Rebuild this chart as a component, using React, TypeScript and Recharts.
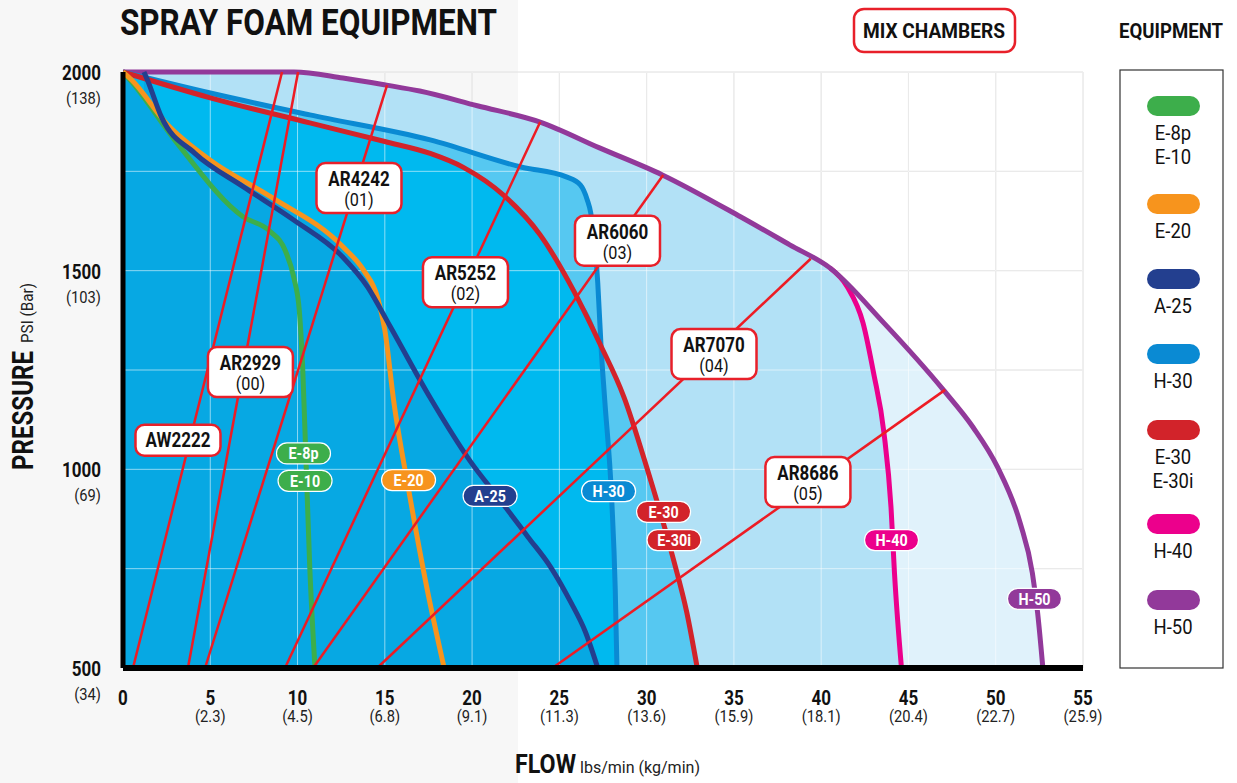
import React from "react";
import {
  ComposedChart,
  Area,
  Line,
  XAxis,
  YAxis,
  CartesianGrid,
  ReferenceLine,
  ReferenceDot,
} from "recharts";

// axis ticks
const FLOW_TICKS = [0, 5, 10, 15, 20, 25, 30, 35, 40, 45, 50, 55];
const FLOW_KG = ["", "(2.3)", "(4.5)", "(6.8)", "(9.1)", "(11.3)", "(13.6)", "(15.9)", "(18.1)", "(20.4)", "(22.7)", "(25.9)"];
const PSI_TICKS = [500, 1000, 1500, 2000];
const PSI_BAR = ["(34)", "(69)", "(103)", "(138)"];
const GRID_X = [5, 10, 15, 20, 25, 30, 35, 40, 45, 50, 55];
const GRID_Y = [750, 1000, 1250, 1500, 1750, 2000];

// equipment curves: flow (lbs/min) vs pressure (psi)
const E10 = [
  { x: 0, y: 2000 }, { x: 0.5, y: 1975 }, { x: 3.1, y: 1821 }, { x: 6.9, y: 1635 },
  { x: 8.4, y: 1600 }, { x: 9.3, y: 1550 }, { x: 9.8, y: 1480 }, { x: 10.1, y: 1400 },
  { x: 10.3, y: 1250 }, { x: 10.5, y: 1000 }, { x: 10.7, y: 754 }, { x: 11, y: 500 },
];
const E20 = [
  { x: 0, y: 2000 }, { x: 0.5, y: 1980 }, { x: 2.5, y: 1870 }, { x: 5, y: 1778 },
  { x: 8.5, y: 1685 }, { x: 12.6, y: 1560 }, { x: 13.8, y: 1500 }, { x: 14.6, y: 1430 },
  { x: 15, y: 1351 }, { x: 15.5, y: 1175 }, { x: 16.4, y: 940 }, { x: 17.4, y: 704 },
  { x: 18.4, y: 500 },
];
const A25 = [
  { x: 1.2, y: 2000 }, { x: 1.4, y: 1980 }, { x: 2.2, y: 1887 }, { x: 4.1, y: 1796 },
  { x: 6.9, y: 1711 }, { x: 9.8, y: 1627 }, { x: 12.6, y: 1534 }, { x: 14, y: 1460 },
  { x: 15.3, y: 1360 }, { x: 17.6, y: 1180 }, { x: 19.9, y: 1020 }, { x: 21.6, y: 923 },
  { x: 23.2, y: 830 }, { x: 24.5, y: 754 }, { x: 25.6, y: 670 }, { x: 26.5, y: 590 },
  { x: 27.2, y: 500 },
];
const H30 = [
  { x: 0, y: 2000 }, { x: 5, y: 1947 }, { x: 10.7, y: 1892 }, { x: 17.6, y: 1829 },
  { x: 22.8, y: 1761 }, { x: 25.4, y: 1736 }, { x: 26.2, y: 1716 }, { x: 26.6, y: 1678 },
  { x: 26.8, y: 1645 }, { x: 27.2, y: 1469 }, { x: 27.4, y: 1300 }, { x: 27.6, y: 1174 },
  { x: 28, y: 923 }, { x: 28.2, y: 700 }, { x: 28.3, y: 500 },
];
const E30 = [
  { x: 0, y: 2000 }, { x: 5, y: 1935 }, { x: 10.7, y: 1872 }, { x: 15, y: 1825 },
  { x: 17.6, y: 1795 }, { x: 19.5, y: 1760 }, { x: 21.8, y: 1690 }, { x: 23.9, y: 1590 },
  { x: 25.8, y: 1451 }, { x: 27.3, y: 1318 }, { x: 28.7, y: 1182 }, { x: 30, y: 1006 },
  { x: 31.5, y: 779 }, { x: 32.3, y: 640 }, { x: 32.9, y: 500 },
];
const H40 = [
  { x: 40.5, y: 1507 }, { x: 41.5, y: 1459 }, { x: 42.4, y: 1368 }, { x: 43, y: 1243 },
  { x: 43.6, y: 1091 }, { x: 44, y: 905 }, { x: 44.2, y: 739 }, { x: 44.6, y: 500 },
];
const H50 = [
  { x: 0, y: 2000 }, { x: 9.8, y: 2000 }, { x: 12.6, y: 1985 }, { x: 15.1, y: 1967 },
  { x: 17, y: 1952 }, { x: 20.3, y: 1915 }, { x: 23.9, y: 1874 }, { x: 27.3, y: 1809 },
  { x: 30.9, y: 1741 }, { x: 35.4, y: 1635 }, { x: 38.2, y: 1565 }, { x: 40.5, y: 1507 },
  { x: 43.6, y: 1368 }, { x: 47, y: 1200 }, { x: 48.7, y: 1106 }, { x: 50.1, y: 1006 },
  { x: 51.4, y: 865 }, { x: 52.1, y: 739 }, { x: 52.4, y: 639 }, { x: 52.7, y: 500 },
];

// mix chambers: line from the 500 psi floor up to the H-50 envelope
const CHAMBERS = ["AW2222", "AR2929", "AR4242", "AR5252", "AR6060", "AR7070", "AR8686"];
const CHAMBER_CODES = ["", "(00)", "(01)", "(02)", "(03)", "(04)", "(05)"];
const CHAMBER_FROM = [0.57, 3.72, 4.7, 9.28, 10.89, 14.56, 24.6];
const CHAMBER_TO = [
  { x: 9.11, y: 2000 }, { x: 10.03, y: 2000 }, { x: 15.13, y: 1967 }, { x: 23.9, y: 1874 },
  { x: 30.95, y: 1741 }, { x: 39.4, y: 1530 }, { x: 47.1, y: 1200 },
];

// where the tags sit (flow, psi)
const chamberTagAt = [
  { x: 3.15, y: 1073 }, { x: 7.3, y: 1245 }, { x: 13.52, y: 1708 }, { x: 19.62, y: 1471 },
  { x: 28.33, y: 1575 }, { x: 33.86, y: 1290 }, { x: 39.24, y: 968 },
];
const curveTags = [
  { text: "E-8p", color: "#3dae4b", x: 10.34, y: 1040 },
  { text: "E-10", color: "#3dae4b", x: 10.43, y: 971 },
  { text: "E-20", color: "#f7941d", x: 16.36, y: 973 },
  { text: "A-25", color: "#233f8f", x: 21.03, y: 933 },
  { text: "H-30", color: "#0a8ad3", x: 27.82, y: 945 },
  { text: "E-30", color: "#d2232a", x: 30.97, y: 893 },
  { text: "E-30i", color: "#d2232a", x: 31.57, y: 822 },
  { text: "H-40", color: "#ec008c", x: 44.03, y: 822 },
  { text: "H-50", color: "#92399a", x: 52.22, y: 674 },
];

const legendItems = [
  { color: "#3dae4b", lines: ["E-8p", "E-10"] },
  { color: "#f7941d", lines: ["E-20"] },
  { color: "#233f8f", lines: ["A-25"] },
  { color: "#0a8ad3", lines: ["H-30"] },
  { color: "#d2232a", lines: ["E-30", "E-30i"] },
  { color: "#ec008c", lines: ["H-40"] },
  { color: "#92399a", lines: ["H-50"] },
];

// fill regions built from the curves
const h40Fill = [...H50.filter((p) => p.x < 40.5), ...H40];
const coreFill = [...E30.filter((p) => p.x <= 27.3), ...H30.filter((p) => p.y <= 1300)];

const FONT = "Roboto, 'Noto Sans', Arial, sans-serif";

function CText({ x, y, size, weight = 400, sx = 1, anchor = "middle", fill = "#111", rotate = 0, children }: any) {
  return (
    <text
      transform={`translate(${x} ${y}) rotate(${rotate}) scale(${sx} 1)`}
      textAnchor={anchor}
      fontSize={size}
      fontWeight={weight}
      fontFamily={FONT}
      fill={fill}
    >
      {children}
    </text>
  );
}

function FlowTick(props: any) {
  const { x, payload } = props;
  const i = FLOW_TICKS.indexOf(payload.value);
  return (
    <g>
      <CText x={x} y={705} size={20} weight={700} sx={0.85}>{payload.value}</CText>
      <CText x={x} y={722} size={16} sx={0.92} fill="#222">{FLOW_KG[i]}</CText>
    </g>
  );
}

function PsiTick(props: any) {
  const { y, payload } = props;
  const i = PSI_TICKS.indexOf(payload.value);
  return (
    <g>
      <CText x={101} y={y + 8} size={20} weight={700} sx={0.85} anchor="end">{payload.value}</CText>
      <CText x={101} y={y + 32} size={16} sx={0.92} anchor="end" fill="#222">{PSI_BAR[i]}</CText>
    </g>
  );
}

function chamberShape(name: string, code: string) {
  return (p: any) => {
    const { cx, cy } = p;
    const two = code !== "";
    const w = 85;
    const h = two ? 50 : 31;
    return (
      <g>
        <rect x={cx - w / 2} y={cy - h / 2} width={w} height={h} rx={9} fill="#fff" stroke="#e8202a" strokeWidth={2.5} />
        <CText x={cx} y={two ? cy - 2 : cy + 7} size={20} weight={700} sx={0.85}>{name}</CText>
        {two && <CText x={cx} y={cy + 18} size={18} sx={0.9}>{code}</CText>}
      </g>
    );
  };
}

function pillShape(text: string, color: string) {
  return (p: any) => {
    const { cx, cy } = p;
    return (
      <g>
        <rect x={cx - 27} y={cy - 10.5} width={54} height={21} rx={10.5} fill={color} stroke="#fff" strokeWidth={1.2} />
        <CText x={cx} y={cy + 6} size={17} weight={700} sx={0.84} fill="#fff">{text}</CText>
      </g>
    );
  };
}

const fill = (data: any[], color: string, key: string) => (
  <Area
    key={key}
    data={data}
    dataKey="y"
    type="monotone"
    fill={color}
    fillOpacity={1}
    stroke="none"
    baseValue={500}
    isAnimationActive={false}
    activeDot={false}
  />
);

const curve = (data: any[], color: string, key: string) => (
  <Line
    key={key}
    data={data}
    dataKey="y"
    type="monotone"
    stroke={color}
    strokeWidth={5}
    dot={false}
    activeDot={false}
    isAnimationActive={false}
  />
);

export default function App() {
  return (
    <div style={{ position: "absolute", left: 0, top: 0, width: 1237, height: 783, background: "#fff", overflow: "hidden" }}>
      <div style={{ position: "absolute", left: 0, top: 0, width: 518, height: 783, background: "#f7f7f7" }} />
      <div style={{ position: "absolute", left: 0, top: 0 }}>
        <ComposedChart width={1237} height={783} margin={{ top: 72, right: 154, bottom: 55, left: 23 }}>
          <CartesianGrid stroke="#d2d2d2" verticalValues={GRID_X} horizontalValues={GRID_Y} />
          <XAxis
            type="number"
            dataKey="x"
            domain={[0, 55]}
            ticks={FLOW_TICKS}
            interval={0}
            height={60}
            axisLine={{ stroke: "#000", strokeWidth: 6 }}
            tickLine={false}
            tick={<FlowTick />}
          />
          <YAxis
            type="number"
            domain={[500, 2000]}
            ticks={PSI_TICKS}
            interval={0}
            width={100}
            axisLine={{ stroke: "#000", strokeWidth: 5 }}
            tickLine={false}
            tick={<PsiTick />}
          />
          {fill(H50, "#e0f2fb", "f-h50")}
          {fill(h40Fill, "#b2e1f6", "f-h40")}
          {fill(H30, "#56c8f1", "f-h30")}
          {fill(E30, "#56c8f1", "f-e30")}
          {fill(coreFill, "#00b9ef", "f-core")}
          {fill(A25, "#07a8e3", "f-a25")}
          {fill(E20, "#07a8e3", "f-e20")}
          {GRID_X.map((v) => (
            <ReferenceLine key={"gx" + v} x={v} stroke="rgba(255,255,255,0.55)" strokeWidth={1} zIndex={150} />
          ))}
          {GRID_Y.map((v) => (
            <ReferenceLine key={"gy" + v} y={v} stroke="rgba(255,255,255,0.55)" strokeWidth={1} zIndex={150} />
          ))}
          {curve(H40, "#ec008c", "c-h40")}
          {curve(H50, "#92399a", "c-h50")}
          {curve(H30, "#0a8ad3", "c-h30")}
          {curve(E30, "#d2232a", "c-e30")}
          {curve(E10, "#3dae4b", "c-e10")}
          {curve(E20, "#f7941d", "c-e20")}
          {curve(A25, "#233f8f", "c-a25")}
          {CHAMBERS.map((name, i) => (
            <Line
              key={"ch" + name}
              data={[{ x: CHAMBER_FROM[i], y: 500 }, CHAMBER_TO[i]]}
              dataKey="y"
              type="linear"
              stroke="#ed1c24"
              strokeWidth={2.5}
              dot={false}
              activeDot={false}
              isAnimationActive={false}
            />
          ))}
          {curveTags.map((t) => (
            <ReferenceDot key={"t" + t.text} x={t.x} y={t.y} r={0} zIndex={2500} shape={pillShape(t.text, t.color)} />
          ))}
          {CHAMBERS.map((name, i) => (
            <ReferenceDot
              key={"tag" + name}
              x={chamberTagAt[i].x}
              y={chamberTagAt[i].y}
              r={0}
              zIndex={2500}
              shape={chamberShape(name, CHAMBER_CODES[i])}
            />
          ))}
        </ComposedChart>
      </div>
      <svg width={1237} height={783} style={{ position: "absolute", left: 0, top: 0, pointerEvents: "none" }}>
        <text x={120} y={35} fontSize={37} fontWeight={700} fontFamily={FONT} fill="#111" textLength={377} lengthAdjust="spacingAndGlyphs">
          SPRAY FOAM EQUIPMENT
        </text>
        <rect x={854} y={9} width={161} height={43} rx={10} fill="#fff" stroke="#e8202a" strokeWidth={2.5} />
        <text x={863} y={38} fontSize={21} fontWeight={700} fontFamily={FONT} fill="#111" textLength={142} lengthAdjust="spacingAndGlyphs">
          MIX CHAMBERS
        </text>
        <text x={1119} y={38} fontSize={21} fontWeight={700} fontFamily={FONT} fill="#111" textLength={104} lengthAdjust="spacingAndGlyphs">
          EQUIPMENT
        </text>
        <g transform="translate(33 470) rotate(-90)">
          <text x={0} y={0} fontSize={29} fontWeight={700} fontFamily={FONT} fill="#111" textLength={119} lengthAdjust="spacingAndGlyphs">
            PRESSURE
          </text>
          <text x={127} y={0} fontSize={16} fontFamily={FONT} fill="#222" textLength={60} lengthAdjust="spacingAndGlyphs">
            PSI (Bar)
          </text>
        </g>
        <text x={515} y={773} fontSize={25} fontWeight={700} fontFamily={FONT} fill="#111" textLength={61} lengthAdjust="spacingAndGlyphs">
          FLOW
        </text>
        <text x={580} y={773} fontSize={16} fontFamily={FONT} fill="#222" textLength={120} lengthAdjust="spacingAndGlyphs">
          lbs/min (kg/min)
        </text>
        <rect x={1120} y={70} width={103} height={598} fill="#fff" stroke="#333" strokeWidth={1.2} />
        {legendItems.map((it, i) => {
          const centers = [106, 204, 279, 354, 430, 524, 600];
          const cy = centers[i];
          return (
            <g key={"lg" + i}>
              <rect x={1147} y={cy - 10} width={53} height={20} rx={10} fill={it.color} />
              {it.lines.map((t, j) => (
                <CText key={t} x={1173} y={cy + 34 + j * 24} size={21} sx={0.88}>{t}</CText>
              ))}
            </g>
          );
        })}
      </svg>
    </div>
  );
}
